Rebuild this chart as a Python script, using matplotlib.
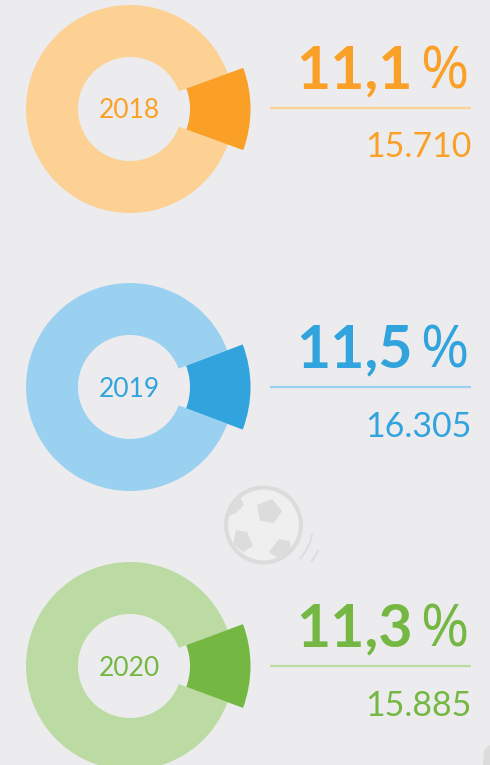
import matplotlib
matplotlib.use('Agg')
import matplotlib.pyplot as plt
from matplotlib.patches import Circle, Polygon, Arc

years = ['2018', '2019', '2020']
shares = [11.1, 11.5, 11.3]
share_labels = ['11,1', '11,5', '11,3']
counts = ['15.710', '16.305', '15.885']
dark_colors = ['#FBA026', '#31A3DD', '#74B743']
light_colors = ['#FDD093', '#9BD1F0', '#BBDBA3']
centers_y = [109, 387, 666]
rules_y = [107.5, 387, 666]
years_y = [110.5, 389.5, 668.5]

bg = '#ECECEE'
ball_grey = '#DCDCDD'
plt.rcParams['font.family'] = ['Lato', 'DejaVu Sans']

fig = plt.figure(figsize=(4.9, 7.65), dpi=100, facecolor=bg)
ax = fig.add_axes([0, 0, 1, 1])

for i in range(3):
    share = shares[i]
    dark = dark_colors[i]
    light = light_colors[i]
    cy = centers_y[i]
    ry = rules_y[i]
    # the share wedge is centred on the right and sticks out of the ring
    half = share / 100 * 360 / 2
    ax.pie([share, 100 - share], colors=['none', light], center=(130, cy), radius=104,
           startangle=-half, wedgeprops={'width': 52, 'linewidth': 0})
    ax.pie([share, 100 - share], colors=[dark, 'none'], center=(130, cy), radius=120.5,
           startangle=-half, wedgeprops={'width': 60.5, 'linewidth': 0})

    ax.text(129, years_y[i], years[i], color=dark, fontsize=19, ha='center', va='center')
    ax.text(413, ry - 19.5, share_labels[i], color=dark, fontsize=42.5, fontweight='bold', ha='right', va='baseline')
    ax.text(468, ry - 19.5, '%', color=dark, fontsize=42, family=['Open Sans', 'DejaVu Sans'], ha='right', va='baseline')
    ax.plot([270, 471], [ry, ry], color=light, lw=1.6, solid_capstyle='butt')
    ax.text(472, ry + 49.5, counts[i], color=dark, fontsize=24.5, ha='right', va='baseline')

# football
ax.add_patch(Circle((263.5, 525), 37.5, fc='#EFEFF0', ec=ball_grey, lw=3))
for pts in [[(257, 505), (272, 499), (282, 511), (274, 523), (260, 521)],
            [(236, 530), (247, 532), (253, 546), (243, 552), (233, 544)],
            [(269, 552), (279, 539), (290, 541), (291, 551), (279, 559)],
            [(228, 514), (240, 497), (244, 505), (236, 513), (229, 516)]]:
    ax.add_patch(Polygon(pts, closed=True, fc=ball_grey, ec='none'))
ax.add_patch(Arc((263, 525), 100, 100, theta1=10, theta2=43, color=ball_grey, lw=1.3))
ax.add_patch(Arc((263, 525), 121, 121, theta1=24, theta2=37, color=ball_grey, lw=1.3))

# edge of the next ball, cut off by the picture
ax.add_patch(Polygon([(483, 765), (484, 750), (490, 745), (490, 765)], closed=True, fc=ball_grey, ec='none'))

ax.set_xlim(0, 490)
ax.set_ylim(765, 0)
ax.set_aspect('auto')
ax.axis('off')

fig.savefig('out.png', dpi=100, facecolor=bg)
